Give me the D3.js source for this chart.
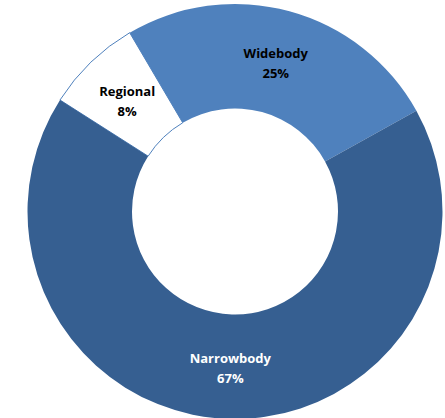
<!DOCTYPE html>
<html>
<head>
<meta charset="utf-8">
<script src="https://cdn.jsdelivr.net/npm/d3@7"></script>
<style>
  body { margin: 0; background: #fff; }
  .lbl { font-family: "Open Sans", Lato, sans-serif; font-weight: bold; font-size: 13px; }
</style>
</head>
<body>
<div class="chart"></div>
<script>
var svgWidth = 445;
var svgHeight = 418;

// values (share of fleet, %)
var categories = ["Regional", "Widebody", "Narrowbody"];
var values = [7.5, 25.4, 67.1];
var colors = ["#ffffff", "#4f81bd", "#365f91"];
var textColors = ["#000000", "#000000", "#ffffff"];

var cx = 235, cy = 211.5;
var outerR = 207.5, innerR = 103;

var svg = d3.select(".chart")
  .append("svg")
  .attr("width", svgWidth)
  .attr("height", svgHeight);

var chart = svg.append("g")
  .attr("transform", `translate(${cx}, ${cy})`);

var total = d3.sum(values);
var startA = -57.5 * Math.PI / 180;

var pie = d3.pie()
  .sort(null)
  .startAngle(startA)
  .endAngle(startA + 2 * Math.PI);

var arcs = pie(values);

var arc = d3.arc()
  .innerRadius(innerR)
  .outerRadius(outerR);

chart.selectAll("path")
  .data(arcs)
  .enter().append("path")
  .attr("d", arc)
  .attr("fill", function(d, i) { return colors[i]; })
  .attr("stroke", function(d, i) { return i === 0 ? "#4f81bd" : "none"; })
  .attr("stroke-width", 1);

// labels: name on first line, rounded percentage on second
var labels = chart.selectAll(".lbl")
  .data(arcs)
  .enter().append("text")
  .attr("class", "lbl")
  .attr("text-anchor", "middle")
  .attr("fill", function(d, i) { return textColors[i]; })
  .attr("transform", function(d) {
    var c = arc.centroid(d);
    return `translate(${c[0]}, ${c[1]})`;
  });

labels.append("tspan")
  .attr("x", 0)
  .attr("y", -4)
  .text(function(d, i) { return categories[i]; });

labels.append("tspan")
  .attr("x", 0)
  .attr("y", 16)
  .text(function(d) { return Math.round(d.value / total * 100) + "%"; });
</script>
</body>
</html>
